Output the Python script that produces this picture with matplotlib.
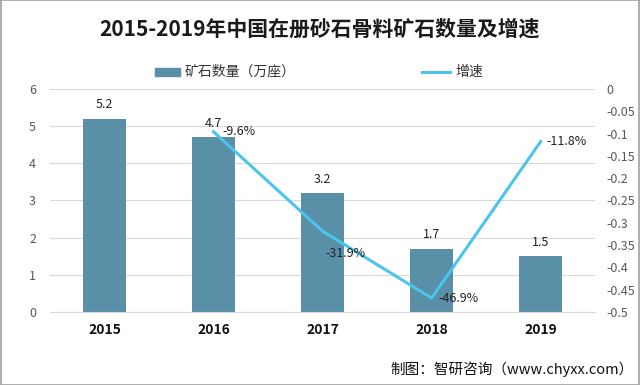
import matplotlib.pyplot as plt
from matplotlib.patches import Rectangle
from matplotlib.lines import Line2D

plt.rcParams['font.family'] = ['Noto Sans CJK SC', 'DejaVu Sans']

years = ['2015', '2016', '2017', '2018', '2019']
counts = [5.2, 4.7, 3.2, 1.7, 1.5]
growth_years = ['2016', '2017', '2018', '2019']
growth = [-0.096, -0.319, -0.469, -0.118]
growth_labels = ['-9.6%', '-31.9%', '-46.9%', '-11.8%']

bar_color = '#5a8fa8'
line_color = '#4cc4ee'

fig = plt.figure(figsize=(6.4, 3.85), dpi=100)
ax = fig.add_axes([0.078, 0.19, 0.852, 0.579])
ax2 = ax.twinx()

x = list(range(len(years)))
ax.bar(x, counts, width=0.4, color=bar_color, zorder=2)
for xi, v in zip(x, counts):
    ax.text(xi, v + 0.2, f'{v}', ha='center', va='bottom', fontsize=9, color='#222222')

gx = [years.index(y) for y in growth_years]
ax2.plot(gx, growth, color=line_color, lw=2.2, zorder=3)
# label offsets (x, y) relative to the points
offsets = [(0.23, 0.0), (0.21, -0.05), (0.25, 0.0), (0.24, 0.0)]
for xi, v, lab, (dx, dy) in zip(gx, growth, growth_labels, offsets):
    ax2.text(xi + dx, v + dy, lab, ha='center', va='center', fontsize=9, color='#222222')

ax.set_xlim(-0.5, 4.5)
ax.set_ylim(0, 6)
ax2.set_ylim(-0.5, 0)
ax.set_yticks(range(0, 7))
ax2.set_yticks([-0.5, -0.45, -0.4, -0.35, -0.3, -0.25, -0.2, -0.15, -0.1, -0.05, 0])
ax2.set_yticklabels(['-0.5', '-0.45', '-0.4', '-0.35', '-0.3', '-0.25', '-0.2',
                     '-0.15', '-0.1', '-0.05', '0'])
ax.set_xticks(x)
ax.set_xticklabels(years, fontweight='bold', fontsize=10, color='#111111')
ax.tick_params(axis='x', length=0, pad=8)
ax.tick_params(axis='y', length=0, labelsize=9, labelcolor='#595959', pad=10)
ax2.tick_params(axis='y', length=0, labelsize=9, labelcolor='#595959', pad=8)
ax.yaxis.grid(True, color='#d9d9d9', lw=0.8, zorder=0)
ax.set_axisbelow(True)
for a in (ax, ax2):
    for s in a.spines.values():
        s.set_visible(False)
ax.spines['bottom'].set_visible(True)
ax.spines['bottom'].set_color('#d9d9d9')

fig.text(0.5, 0.925, '2015-2019年中国在册砂石骨料矿石数量及增速', ha='center', va='center',
         fontsize=15, fontweight='bold', color='#1a1a1a')

fig.patches.append(Rectangle((0.242, 0.802), 0.039, 0.022, transform=fig.transFigure,
                             color=bar_color))
fig.text(0.289, 0.813, '矿石数量（万座）', ha='left', va='center', fontsize=10, color='#333333')
fig.lines.append(Line2D([0.659, 0.703], [0.813, 0.813], transform=fig.transFigure,
                        color=line_color, lw=2.2))
fig.text(0.711, 0.813, '增速', ha='left', va='center', fontsize=10, color='#333333')

fig.text(0.99, 0.04, '制图：智研咨询（www.chyxx.com）', ha='right', va='center',
         fontsize=10.5, color='#111111')

fig.patches.append(Rectangle((0.001, 0.001), 0.998, 0.998, transform=fig.transFigure,
                             fill=False, edgecolor='#a0a0a0', lw=1.2))

fig.savefig('out.png', dpi=100)
